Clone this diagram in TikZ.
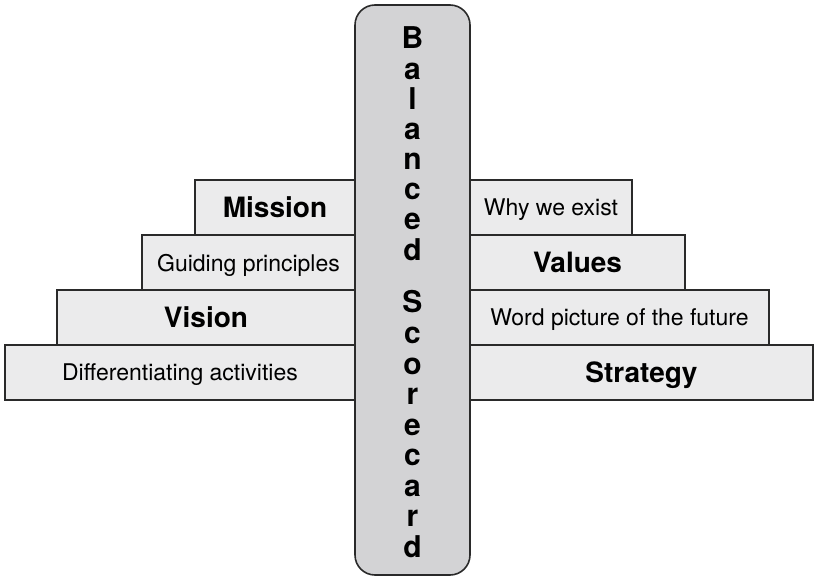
\documentclass[tikz,border=0pt]{standalone}
\usepackage{fontspec}
\setmainfont{TeX Gyre Heros}
\usetikzlibrary{positioning}

\definecolor{boxgray}{HTML}{EBEBEC}
\definecolor{bargray}{HTML}{D3D3D5}
\definecolor{edgegray}{HTML}{2A2A2A}

\begin{document}
\begin{tikzpicture}[x=1pt,y=-1pt,
    stepbox/.style={draw=edgegray,fill=boxgray,line width=1.6pt,minimum height=55pt,
      inner sep=0pt,outer sep=0pt,text depth=0pt,font=\fontsize{23}{27}\selectfont},
    keybox/.style={stepbox,font=\fontsize{28}{32}\selectfont\bfseries},
    barletter/.style={anchor=base,inner sep=0pt,font=\fontsize{30}{30}\selectfont\bfseries}
  ]
  \useasboundingbox (0,0) rectangle (814,577);

  % left steps
  \node[keybox,minimum width=160pt,anchor=north east] (mission) at (355,180) {Mission};
  \node[stepbox,minimum width=213pt,below=0pt of mission.south east,anchor=north east] (guiding) {Guiding principles};
  \node[keybox,minimum width=298pt,below=0pt of guiding.south east,anchor=north east] (vision) {Vision};
  \node[stepbox,minimum width=350pt,below=0pt of vision.south east,anchor=north east] (activities) {Differentiating activities};

  % right steps
  \node[stepbox,minimum width=162pt,anchor=north west] (exist) at (470,180) {Why we exist};
  \node[keybox,minimum width=215pt,below=0pt of exist.south west,anchor=north west] (values) {Values};
  \node[stepbox,minimum width=299pt,below=0pt of values.south west,anchor=north west] (future) {Word picture of the future};
  \node[keybox,minimum width=343pt,below=0pt of future.south west,anchor=north west] (strategy) {Strategy};

  % the bar
  \node[draw=edgegray,fill=bargray,line width=1.6pt,rounded corners=20pt,outer sep=0pt,
    minimum width=115pt,minimum height=570pt,anchor=north] (bar) at (412.5,5) {};
  \foreach \ch [count=\i from 0] in {B,a,l,a,n,c,e,d}
    \node[barletter] (b\i) at (412.5,49+30.15*\i) {\ch};
  \foreach \ch [count=\i from 0] in {S,c,o,r,e,c,a,r,d}
    \node[barletter] (s\i) at (412.5,313+30.5*\i) {\ch};
\end{tikzpicture}
\end{document}
